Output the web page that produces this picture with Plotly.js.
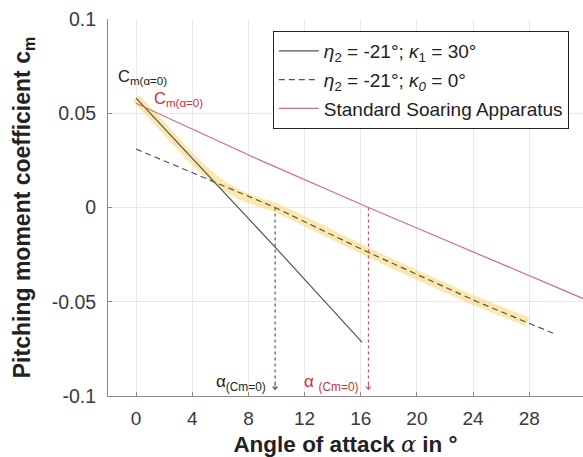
<!DOCTYPE html>
<html>
<head>
<meta charset="utf-8">
<script src="https://cdn.plot.ly/plotly-3.0.1.min.js"></script>
<style>html,body{margin:0;padding:0;background:#fff;}#chart{width:583px;height:457px;}</style>
</head>
<body>
<div id="chart"></div>
<script>
// Data
const alphaSolid = [0, 5.77, 10, 16.1];
const cmSolid = [0.058, 0.0118, -0.0218, -0.0716];

const alphaDashed = [0, 5.77, 9.9, 16.45, 24.3, 29.7];
const cmDashed = [0.031, 0.0129, 0, -0.0235, -0.05, -0.0667];

const alphaStandard = [0, 8.86, 16.55, 23.8, 32];
const cmStandard = [0.0553, 0.025, 0, -0.0229, -0.0488];

const alphaHighlight = [0, 2, 4, 5, 6, 7, 8, 9.9, 16.45, 24.3, 27.9];
const cmHighlight = [0.058, 0.0419, 0.0258, 0.0188, 0.0128, 0.0082, 0.0047, 0, -0.0235, -0.05, -0.0606];

const alphaZeroConfig = 9.9;     // alpha at Cm = 0 (dashed config)
const alphaZeroStandard = 16.55; // alpha at Cm = 0 (standard)
const cmZero = 0;
const arrowBottom = -0.0968;

const xTicks = [0, 4, 8, 12, 16, 20, 24, 28];
const yTicks = [-0.1, -0.05, 0, 0.05, 0.1];
const yTickText = ['-0.1', '-0.05', '0', '0.05', '0.1'];

const legendNames = [
  '<i>η</i><sub>2</sub> = -21°; <i>κ</i><sub>1</sub> = 30°',
  '<i>η</i><sub>2</sub> = -21°; <i>κ<sub>0</sub></i> = 0°',
  'Standard Soaring Apparatus'
];

const FONT = 'Liberation Sans, Arial, sans-serif';
const GREY = '#555555';
const RED = '#d0727a';
const RED_TEXT = '#c8303c';

const traces = [
  {x: alphaHighlight, y: cmHighlight, mode: 'lines', line: {color: 'rgba(246,214,110,0.55)', width: 9, shape: 'spline', smoothing: 0.8}, showlegend: false, hoverinfo: 'skip'},
  {x: alphaSolid, y: cmSolid, mode: 'lines', name: legendNames[0], line: {color: GREY, width: 1.2}, legendgroup: 'a'},
  {x: alphaDashed, y: cmDashed, mode: 'lines', name: legendNames[1], line: {color: GREY, width: 1.2, dash: '6px,4px'}, legendgroup: 'b'},
  {x: alphaStandard, y: cmStandard, mode: 'lines', name: legendNames[2], line: {color: RED, width: 1.2}, legendgroup: 'c'},
  {x: [alphaZeroConfig, alphaZeroConfig], y: [cmZero, arrowBottom], mode: 'lines', line: {color: GREY, width: 1.2, dash: 'dot'}, showlegend: false, hoverinfo: 'skip'},
  {x: [alphaZeroStandard, alphaZeroStandard], y: [cmZero, arrowBottom], mode: 'lines', line: {color: '#d8505c', width: 1.2, dash: 'dot'}, showlegend: false, hoverinfo: 'skip'}
];

const layout = {
  width: 583, height: 457,
  margin: {l: 108, r: 0, t: 19, b: 61},
  paper_bgcolor: '#ffffff', plot_bgcolor: '#ffffff',
  font: {family: FONT, color: '#333'},
  showlegend: true,
  legend: {
    x: 0.347, y: 0.968, xanchor: 'left', yanchor: 'top',
    bgcolor: '#ffffff', bordercolor: '#222', borderwidth: 1,
    font: {family: FONT, size: 19, color: '#222'},
    traceorder: 'grouped', tracegroupgap: 1,
    itemwidth: 40
  },
  xaxis: {
    range: [-2, 31.83], tickvals: xTicks, ticktext: xTicks.map(String),
    showgrid: true, gridcolor: '#e8e8e8', gridwidth: 1,
    zeroline: false, showline: true, linecolor: '#8a8a8a', linewidth: 1, mirror: false,
    ticks: 'inside', ticklen: 4, tickcolor: '#8a8a8a',
    tickfont: {family: FONT, size: 19, color: '#3a3a3a'},
    ticklabelstandoff: 5,
    title: {text: '<b>Angle of attack <span style="font-family:DejaVu Serif, serif;font-weight:normal"><i>α</i></span> in °</b>', font: {family: FONT, size: 22.5, color: '#222'}, standoff: 12}
  },
  yaxis: {
    range: [-0.1, 0.1], tickvals: yTicks, ticktext: yTickText,
    showgrid: true, gridcolor: '#e8e8e8', gridwidth: 1,
    zeroline: false, showline: true, linecolor: '#8a8a8a', linewidth: 1, mirror: false,
    ticks: 'inside', ticklen: 4, tickcolor: '#8a8a8a',
    tickfont: {family: FONT, size: 19.5, color: '#3a3a3a'},
    ticklabelstandoff: 7,
    title: {text: '<b>Pitching moment coefficient c<sub>m</sub></b>', font: {family: FONT, size: 23, color: '#222'}, standoff: 14}
  },
  annotations: [
    {x: alphaSolid[0], y: cmSolid[0], xref: 'x', yref: 'y', text: 'C<sub>m(α=0)</sub>', showarrow: false, xanchor: 'left', yanchor: 'middle', xshift: -20, yshift: 21, font: {family: FONT, size: 16.5, color: '#222'}},
    {x: alphaStandard[0], y: cmStandard[0], xref: 'x', yref: 'y', text: 'C<sub>m(α=0)</sub>', showarrow: false, xanchor: 'left', yanchor: 'middle', xshift: 16, yshift: 4, font: {family: FONT, size: 16.5, color: RED_TEXT}},
    {x: alphaZeroConfig, y: -0.1, xref: 'x', yref: 'y', text: 'α<sub>(Cm=0)</sub>', showarrow: false, xanchor: 'right', yanchor: 'middle', xshift: -7, yshift: 13, font: {family: FONT, size: 17, color: '#222'}},
    {x: alphaZeroStandard, y: -0.1, xref: 'x', yref: 'y', text: 'α <sub>(Cm=0)</sub>', showarrow: false, xanchor: 'right', yanchor: 'middle', xshift: -7, yshift: 13, font: {family: FONT, size: 17, color: RED_TEXT}},
    {x: alphaZeroConfig, y: arrowBottom, xref: 'x', yref: 'y', ax: alphaZeroConfig, ay: arrowBottom + 0.004, axref: 'x', ayref: 'y', text: '', showarrow: true, arrowhead: 4, arrowsize: 1, arrowwidth: 1, arrowcolor: GREY},
    {x: alphaZeroStandard, y: arrowBottom, xref: 'x', yref: 'y', ax: alphaZeroStandard, ay: arrowBottom + 0.004, axref: 'x', ayref: 'y', text: '', showarrow: true, arrowhead: 4, arrowsize: 1, arrowwidth: 1, arrowcolor: '#d8505c'}
  ]
};

Plotly.newPlot('chart', traces, layout, {displayModeBar: false, staticPlot: true});
</script>
</body>
</html>
